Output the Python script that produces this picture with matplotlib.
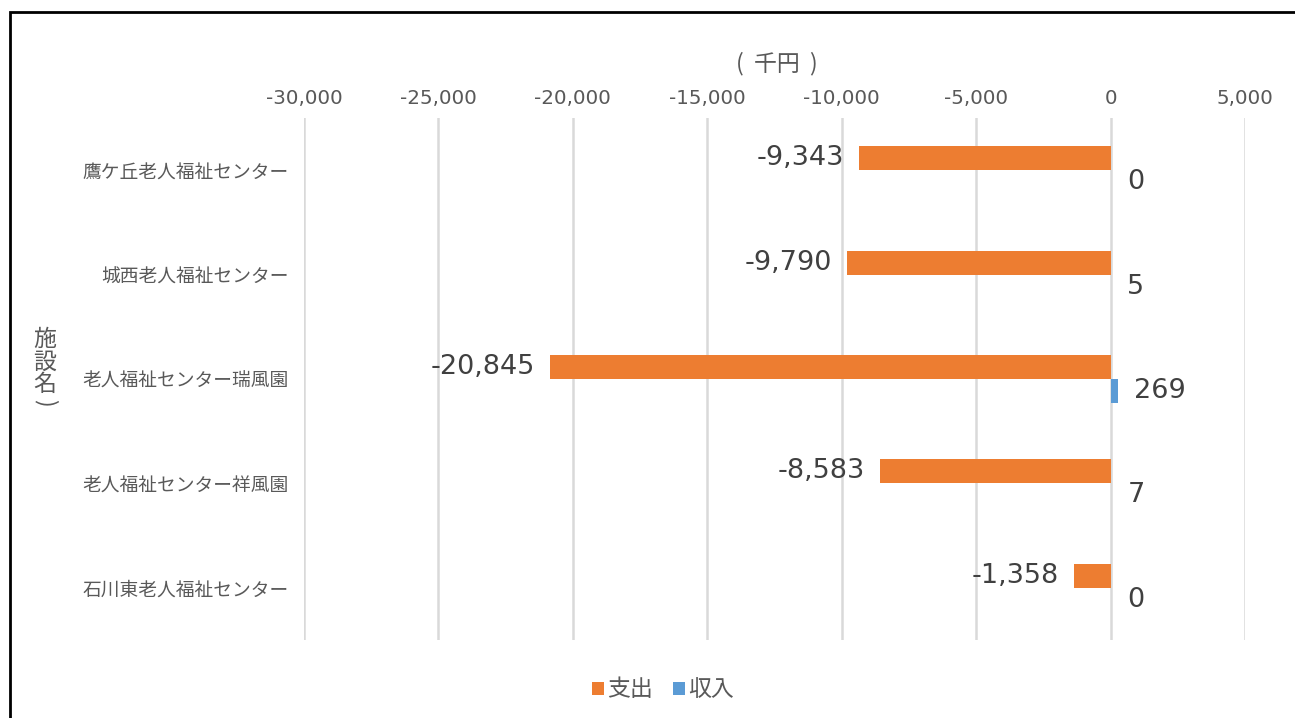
import matplotlib.pyplot as plt
import matplotlib.patches as patches
import numpy as np

plt.rcParams['font.family'] = ['Noto Sans CJK JP', 'DejaVu Sans']

# data
facilities = ['鷹ケ丘老人福祉センター', '城西老人福祉センター', '老人福祉センター瑞風園',
              '老人福祉センター祥風園', '石川東老人福祉センター']
expense = [-9343, -9790, -20845, -8583, -1358]   # 支出
income = [0, 5, 269, 7, 0]                        # 収入
xticks = [-30000, -25000, -20000, -15000, -10000, -5000, 0, 5000]

ORANGE = '#ED7D31'
BLUE = '#5B9BD5'
NUMFONT = 'DejaVu Sans'

fig = plt.figure(figsize=(12.95, 7.18), dpi=100)
ax = fig.add_axes([304 / 1295, 1 - 640 / 718, (1245 - 304) / 1295, (640 - 118) / 718])

y = np.arange(len(facilities))
h = 0.23
b1 = ax.barh(y - h / 2, expense, height=h, color=ORANGE, label='支出', zorder=3)
b2 = ax.barh(y + h / 2, income, height=h, color=BLUE, label='収入', zorder=3)

ax.set_ylim(len(facilities) - 0.5, -0.5)
ax.set_xlim(-30000, 5000)
ax.set_yticks(y)
ax.set_yticklabels(facilities, fontsize=13.5, color='#595959')
ax.set_xticks(xticks)
ax.set_xticklabels([f'{v:,}' for v in xticks], fontsize=14.3, color='#595959',
                   family=NUMFONT)
ax.xaxis.tick_top()
ax.tick_params(axis='both', length=0)
ax.tick_params(axis='y', pad=11)
ax.tick_params(axis='x', pad=7)
ax.grid(axis='x', color='#d9d9d9', linewidth=1.8, zorder=0)
for s in ax.spines.values():
    s.set_visible(False)

# value labels
for v, yy in zip(expense, y - h / 2):
    ax.annotate(f'{v:,}', xy=(v, yy), xytext=(-11, 0), textcoords='offset points',
                ha='right', va='center', fontsize=19.5, color='#404040', family=NUMFONT)
for v, yy in zip(income, y + h / 2):
    ax.annotate(f'{v:,}', xy=(v, yy), xytext=(12, 0), textcoords='offset points',
                ha='left', va='center', fontsize=19.5, color='#404040', family=NUMFONT)

# axis titles
fig.text(777 / 1295, 1 - 64 / 718, '(  千円  )', ha='center', va='center',
         fontsize=16.5, color='#595959')
fig.text(45 / 1295, 1 - 362 / 718, '施\n設\n名', ha='center', va='center',
         fontsize=16.5, color='#595959', linespacing=0.98)
fig.text(45 / 1295, 1 - 403 / 718, ')', ha='center', va='center', rotation=-90,
         fontsize=16.5, color='#595959')

fig.legend(handles=[b1, b2], loc='center', bbox_to_anchor=(663 / 1295, 1 - 690 / 718),
           ncol=2, frameon=False, fontsize=16.5, handlelength=0.5, handleheight=0.5,
           handletextpad=0.15, columnspacing=0.9, labelcolor='#595959')

# outer frame
fig.patches.append(patches.Rectangle((10 / 1295, -0.02), 1.1, 1 - 12 / 718 + 0.02,
                                     transform=fig.transFigure, fill=False,
                                     edgecolor='black', linewidth=2))

fig.savefig('out.png', dpi=100)
